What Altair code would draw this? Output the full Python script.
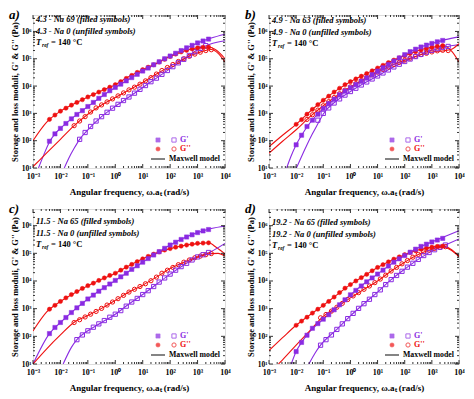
import altair as alt
import pandas as pd

PURPLE = "#8A2BE2"
RED = "#EE1111"
FONT = "Liberation Serif"

# ---------------- data (log10 exponents) ----------------
# Panel a) 4.3 - Na 69 / Na 0
a_fx = [-2.4,-2.2,-2.0,-1.8,-1.6,-1.4,-1.2,-1.0,-0.8,-0.6,-0.4,-0.2,0.0,0.2,0.4,0.6,0.8,1.0,1.2,1.4,1.6,1.8,2.0,2.2,2.4,2.6,2.8,3.0,3.2,3.4]
a_gp_f = [1.98,2.25,2.45,2.63,2.8,2.96,3.1,3.25,3.4,3.55,3.69,3.83,3.95,4.07,4.19,4.31,4.43,4.55,4.66,4.78,4.89,5.0,5.1,5.2,5.3,5.4,5.49,5.58,5.65,5.72]
a_gpp_f = [2.78,2.94,3.08,3.19,3.3,3.4,3.5,3.6,3.69,3.78,3.87,3.96,4.05,4.16,4.28,4.39,4.5,4.6,4.69,4.78,4.88,4.98,5.08,5.17,5.25,5.31,5.36,5.4,5.42,5.43]
a_ux_gp = [-1.3,-1.1,-0.9,-0.7,-0.5,-0.3,-0.1,0.1,0.3,0.5,0.7,0.9,1.1,1.3,1.5,1.7,1.9,2.1,2.3,2.5,2.7,2.9,3.1,3.3]
a_gp_u = [2.05,2.3,2.52,2.72,2.88,3.04,3.19,3.33,3.47,3.6,3.74,3.88,4.02,4.16,4.29,4.43,4.57,4.71,4.85,4.98,5.12,5.26,5.38,5.48]
a_ux_gpp = [-1.5,-1.3,-1.1,-0.9,-0.7,-0.5,-0.3,-0.1,0.1,0.3,0.5,0.7,0.9,1.1,1.3,1.5,1.7,1.9,2.1,2.3,2.5,2.7,2.9,3.1,3.3,3.5]
a_gpp_u = [2.55,2.72,2.88,3.05,3.2,3.31,3.42,3.53,3.64,3.75,3.86,3.96,4.07,4.19,4.31,4.44,4.57,4.68,4.79,4.9,5.0,5.09,5.17,5.24,5.3,5.33]
a_lx_gp_f = [-2.8,-2.6,-2.4,-2.2,-2.0,-1.5,-1.0,-0.5,0,0.5,1,1.5,2,2.5,3,3.5,4]
a_ly_gp_f = [1.0,1.5,1.95,2.25,2.45,2.88,3.25,3.62,3.95,4.25,4.55,4.83,5.1,5.35,5.58,5.76,5.9]
a_lx_gpp_f = [-3,-2.5,-2,-1.5,-1,-0.5,0,0.5,1,1.5,2,2.5,3,3.4,3.7,4]
a_ly_gpp_f = [2.0,2.68,3.08,3.35,3.6,3.83,4.05,4.35,4.6,4.83,5.08,5.28,5.4,5.43,5.3,5.0]
a_lx_gp_u = [-1.86,-1.7,-1.5,-1.3,-1,-0.5,0,0.5,1,1.5,2,2.5,3,3.5,4]
a_ly_gp_u = [1.0,1.35,1.72,2.05,2.4,2.88,3.26,3.6,3.95,4.29,4.64,4.98,5.33,5.55,5.66]
a_lx_gpp_u = [-3.05,-2.5,-2,-1.5,-1,-0.5,0,0.5,1,1.5,2,2.5,3,3.5,3.75,4]
a_ly_gpp_u = [1.0,1.55,2.05,2.55,2.97,3.31,3.58,3.86,4.13,4.44,4.73,5.0,5.21,5.34,5.2,4.88]

# Panel b) 4.9 - Na 63 / Na 0
b_fx = [-2.0,-1.8,-1.6,-1.4,-1.2,-1.0,-0.8,-0.6,-0.4,-0.2,0.0,0.2,0.4,0.6,0.8,1.0,1.2,1.4,1.6,1.8,2.0,2.2,2.4,2.6,2.8,3.0,3.2,3.4]
b_gp_f = [1.85,2.2,2.52,2.75,2.97,3.18,3.36,3.52,3.68,3.82,3.94,4.06,4.18,4.3,4.42,4.55,4.67,4.79,4.91,5.03,5.15,5.26,5.35,5.43,5.5,5.56,5.62,5.67]
b_gpp_f = [2.6,2.77,2.97,3.15,3.32,3.48,3.63,3.78,3.92,4.05,4.16,4.26,4.36,4.46,4.56,4.66,4.76,4.86,4.95,5.03,5.11,5.19,5.26,5.32,5.37,5.42,5.46,5.48]
b_ux_gp = [-1.2,-1.0,-0.8,-0.6,-0.4,-0.2,0.0,0.2,0.4,0.6,0.8,1.0,1.2,1.4,1.6,1.8,2.0,2.2,2.4,2.6,2.8,3.0,3.2,3.4,3.6]
b_gp_u = [2.75,3.0,3.2,3.38,3.53,3.67,3.8,3.92,4.04,4.15,4.26,4.37,4.48,4.59,4.7,4.8,4.9,4.99,5.08,5.16,5.24,5.31,5.37,5.42,5.45]
b_ux_gpp = [-1.6,-1.4,-1.2,-1.0,-0.8,-0.6,-0.4,-0.2,0.0,0.2,0.4,0.6,0.8,1.0,1.2,1.4,1.6,1.8,2.0,2.2,2.4,2.6,2.8,3.0,3.2,3.4,3.6]
b_gpp_u = [2.78,2.95,3.12,3.28,3.43,3.58,3.72,3.85,3.97,4.09,4.2,4.31,4.41,4.51,4.61,4.7,4.79,4.87,4.95,5.02,5.09,5.15,5.2,5.25,5.29,5.31,5.3]
b_lx_gp_f = [-2.35,-2.2,-2.0,-1.8,-1.5,-1,-0.5,0,0.5,1,1.5,2,2.5,3,3.5,4]
b_ly_gp_f = [1.0,1.4,1.85,2.2,2.64,3.18,3.6,3.94,4.24,4.55,4.85,5.15,5.39,5.56,5.7,5.8]
b_lx_gpp_f = [-3,-2.5,-2,-1.5,-1,-0.5,0,0.5,1,1.5,2,2.5,3,3.5,3.75,4]
b_ly_gpp_f = [1.78,2.2,2.6,3.06,3.48,3.85,4.16,4.41,4.66,4.91,5.11,5.3,5.42,5.46,5.25,4.88]
b_lx_gp_u = [-1.99,-1.8,-1.6,-1.4,-1.2,-1,-0.5,0,0.5,1,1.5,2,2.5,3,3.5,4]
b_ly_gp_u = [1.0,1.42,1.85,2.25,2.62,2.98,3.47,3.8,4.1,4.37,4.65,4.9,5.12,5.31,5.43,5.52]
b_lx_gpp_u = [-3,-2.5,-2,-1.5,-1,-0.5,0,0.5,1,1.5,2,2.5,3,3.5,3.75,4]
b_ly_gpp_u = [1.54,1.98,2.4,2.87,3.28,3.65,3.97,4.26,4.51,4.75,4.95,5.12,5.25,5.3,5.36,5.55]

# Panel c) 11.5 - Na 65 / Na 0
c_fx = [-2.4,-2.2,-2.0,-1.8,-1.6,-1.4,-1.2,-1.0,-0.8,-0.6,-0.4,-0.2,0.0,0.2,0.4,0.6,0.8,1.0,1.2,1.4,1.6,1.8,2.0,2.2,2.4,2.6,2.8,3.0,3.2,3.4]
c_gp_f = [2.1,2.32,2.5,2.68,2.86,3.03,3.19,3.35,3.49,3.63,3.76,3.89,4.02,4.15,4.28,4.42,4.55,4.68,4.81,4.94,5.06,5.18,5.3,5.4,5.5,5.59,5.67,5.75,5.81,5.86]
c_gpp_f = [2.98,3.12,3.26,3.39,3.51,3.62,3.73,3.83,3.92,4.02,4.11,4.2,4.28,4.39,4.5,4.6,4.7,4.8,4.89,4.97,5.05,5.12,5.17,5.22,5.26,5.3,5.33,5.36,5.37,5.38]
c_ux_gp = [-1.4,-1.2,-1.0,-0.8,-0.6,-0.4,-0.2,0.0,0.2,0.4,0.6,0.8,1.0,1.2,1.4,1.6,1.8,2.0,2.2,2.4,2.6,2.8,3.0,3.2,3.4]
c_gp_u = [1.88,2.05,2.2,2.33,2.45,2.57,2.69,2.8,2.93,3.09,3.24,3.37,3.51,3.65,3.8,3.96,4.11,4.25,4.39,4.52,4.64,4.76,4.87,4.95,5.03]
c_ux_gpp = [-1.5,-1.3,-1.1,-0.9,-0.7,-0.5,-0.3,-0.1,0.1,0.3,0.5,0.7,0.9,1.1,1.3,1.5,1.7,1.9,2.1,2.3,2.5,2.7,2.9,3.1,3.3,3.5]
c_gpp_u = [2.5,2.6,2.7,2.8,2.9,3.01,3.13,3.24,3.36,3.48,3.6,3.7,3.8,3.9,4.01,4.14,4.28,4.39,4.49,4.59,4.68,4.76,4.84,4.9,4.95,4.99]
c_lx_gp_f = [-3,-2.4,-2,-1.5,-1,-0.5,0,0.5,1,1.5,2,2.5,3,3.5,4]
c_ly_gp_f = [1.0,2.1,2.5,2.95,3.35,3.7,4.02,4.35,4.68,5.0,5.3,5.55,5.75,5.9,5.98]
c_lx_gpp_f = [-3,-2.5,-2,-1.5,-1,-0.5,0,0.5,1,1.5,2,2.5,3,3.4,3.7,4]
c_ly_gpp_f = [2.19,2.88,3.26,3.56,3.83,4.06,4.28,4.55,4.8,5.01,5.17,5.28,5.35,5.38,5.2,4.98]
c_lx_gp_u = [-1.9,-1.6,-1.4,-1,-0.5,0,0.5,1,1.5,2,2.5,3,3.5,4]
c_ly_gp_u = [1.0,1.6,1.88,2.2,2.5,2.8,3.17,3.51,3.88,4.25,4.58,4.87,5.07,5.36]
c_lx_gpp_u = [-3,-2.5,-2,-1.5,-1,-0.5,0,0.5,1,1.5,2,2.5,3,3.5,3.75,4]
c_ly_gpp_u = [1.0,1.55,2.05,2.51,2.75,3.01,3.3,3.6,3.85,4.14,4.45,4.68,4.87,4.99,5.0,4.9]

# Panel d) 19.2 - Na 65 / Na 0
d_fx = [-2.0,-1.8,-1.6,-1.4,-1.2,-1.0,-0.8,-0.6,-0.4,-0.2,0.0,0.2,0.4,0.6,0.8,1.0,1.2,1.4,1.6,1.8,2.0,2.2,2.4,2.6,2.8,3.0,3.2,3.4]
d_gp_f = [1.45,1.78,2.04,2.29,2.46,2.62,2.78,2.96,3.14,3.32,3.5,3.66,3.82,3.97,4.11,4.25,4.39,4.54,4.68,4.8,4.92,5.04,5.15,5.25,5.33,5.41,5.48,5.54]
d_gpp_f = [2.4,2.55,2.69,2.84,2.98,3.12,3.26,3.42,3.58,3.74,3.87,4.0,4.12,4.24,4.37,4.49,4.59,4.69,4.79,4.87,4.95,5.03,5.09,5.15,5.19,5.22,5.25,5.26]
d_ux = [-1.1,-0.9,-0.7,-0.5,-0.3,-0.1,0.1,0.3,0.5,0.7,0.9,1.1,1.3,1.5,1.7,1.9,2.1,2.3,2.5,2.7,2.9,3.1,3.3,3.5]
d_gp_u = [1.68,1.88,2.05,2.25,2.45,2.64,2.83,3.01,3.18,3.34,3.51,3.68,3.87,4.05,4.2,4.35,4.5,4.64,4.78,4.92,5.03,5.13,5.22,5.3]
d_gpp_u = [2.67,2.79,2.91,3.05,3.19,3.33,3.46,3.58,3.7,3.82,3.94,4.07,4.21,4.36,4.49,4.62,4.74,4.86,4.96,5.05,5.12,5.18,5.22,5.24]
d_lx_gp_f = [-2.18,-2.0,-1.8,-1.5,-1,-0.5,0,0.5,1,1.5,2,2.5,3,3.5,4]
d_ly_gp_f = [1.0,1.45,1.78,2.17,2.62,3.05,3.5,3.9,4.25,4.61,4.92,5.2,5.41,5.62,5.82]
d_lx_gpp_f = [-3,-2.5,-2,-1.5,-1,-0.5,0,0.5,1,1.5,2,2.5,3,3.4,3.7,4]
d_ly_gpp_f = [1.49,1.95,2.4,2.77,3.12,3.5,3.87,4.18,4.49,4.74,4.95,5.12,5.22,5.26,5.15,4.89]
d_lx_gp_u = [-1.53,-1.3,-1.1,-0.5,0,0.5,1,1.5,2,2.5,3,3.5,4]
d_ly_gp_u = [1.0,1.4,1.68,2.25,2.74,3.18,3.6,4.05,4.43,4.78,5.08,5.3,5.52]
d_lx_gpp_u = [-2.65,-2.5,-2,-1.5,-1,-0.5,0,0.5,1,1.5,2,2.5,3,3.4,3.7,4]
d_ly_gpp_u = [1.0,1.15,1.68,2.2,2.72,3.05,3.39,3.7,4.0,4.36,4.68,4.96,5.15,5.23,5.12,4.88]

panel_labels = ["a)", "b)", "c)", "d)"]
sample_names = [("4.3 - Na 69 (filled symbols)", "4.3 - Na 0 (unfilled symbols)"),
                ("4.9 - Na 63 (filled symbols)", "4.9 - Na 0 (unfilled symbols)"),
                ("11.5 - Na 65 (filled symbols)", "11.5 - Na 0 (unfilled symbols)"),
                ("19.2 - Na 65 (filled symbols)", "19.2 - Na 0 (unfilled symbols)")]

x_ticks = [1e-3, 1e-2, 1e-1, 1e0, 1e1, 1e2, 1e3, 1e4]
y_ticks = [1e1, 1e2, 1e3, 1e4, 1e5, 1e6]
X_DOMAIN = [1e-3, 1e4]
Y_DOMAIN = [10, 4.0e6]

panels = [
    dict(fx=a_fx, gp_f=a_gp_f, gpp_f=a_gpp_f, ux_gp=a_ux_gp, gp_u=a_gp_u, ux_gpp=a_ux_gpp, gpp_u=a_gpp_u,
         lines=[(a_lx_gp_f, a_ly_gp_f, PURPLE), (a_lx_gpp_f, a_ly_gpp_f, RED),
                (a_lx_gp_u, a_ly_gp_u, PURPLE), (a_lx_gpp_u, a_ly_gpp_u, RED)]),
    dict(fx=b_fx, gp_f=b_gp_f, gpp_f=b_gpp_f, ux_gp=b_ux_gp, gp_u=b_gp_u, ux_gpp=b_ux_gpp, gpp_u=b_gpp_u,
         lines=[(b_lx_gp_f, b_ly_gp_f, PURPLE), (b_lx_gpp_f, b_ly_gpp_f, RED),
                (b_lx_gp_u, b_ly_gp_u, PURPLE), (b_lx_gpp_u, b_ly_gpp_u, RED)]),
    dict(fx=c_fx, gp_f=c_gp_f, gpp_f=c_gpp_f, ux_gp=c_ux_gp, gp_u=c_gp_u, ux_gpp=c_ux_gpp, gpp_u=c_gpp_u,
         lines=[(c_lx_gp_f, c_ly_gp_f, PURPLE), (c_lx_gpp_f, c_ly_gpp_f, RED),
                (c_lx_gp_u, c_ly_gp_u, PURPLE), (c_lx_gpp_u, c_ly_gpp_u, RED)]),
    dict(fx=d_fx, gp_f=d_gp_f, gpp_f=d_gpp_f, ux_gp=d_ux, gp_u=d_gp_u, ux_gpp=d_ux, gpp_u=d_gpp_u,
         lines=[(d_lx_gp_f, d_ly_gp_f, PURPLE), (d_lx_gpp_f, d_ly_gpp_f, RED),
                (d_lx_gp_u, d_ly_gp_u, PURPLE), (d_lx_gpp_u, d_ly_gpp_u, RED)]),
]

X_LABELS = "['10\u207b\u00b3','10\u207b\u00b2','10\u207b\u00b9','10\u2070','10\u00b9','10\u00b2','10\u00b3','10\u2074'][round(log(datum.value)/LN10)+3]"
Y_LABELS = "['10\u00b9','10\u00b2','10\u00b3','10\u2074','10\u2075','10\u2076'][round(log(datum.value)/LN10)-1]"
X_TITLE = "Angular frequency, \u03c9.a\u209c (rad/s)"
Y_TITLE = "Storage and loss moduli, G' & G'' (Pa)"

xs = alt.Scale(type="log", domain=X_DOMAIN, nice=False)
ys = alt.Scale(type="log", domain=Y_DOMAIN, nice=False)
XAX = alt.Axis(values=x_ticks, labelExpr=X_LABELS, ticks=False, grid=False, domain=False,
               labelFont=FONT, labelFontWeight="bold", labelFontSize=8, labelColor="black",
               labelPadding=4, labelFlush=False, titleFont=FONT, titleFontWeight="bold",
               titleFontSize=9, titleColor="black", titlePadding=7)
YAX = alt.Axis(values=y_ticks, labelExpr=Y_LABELS, ticks=False, grid=False, domain=False,
               labelFont=FONT, labelFontWeight="bold", labelFontSize=7.5, labelColor="black",
               labelPadding=2, labelFlush=False, titleFont=FONT, titleFontWeight="bold",
               titleFontSize=8.5, titleColor="black", titlePadding=2)

minor_x = [m * 10.0 ** e for e in range(-3, 4) for m in range(2, 10)]
minor_y = [m * 10.0 ** e for e in range(1, 7) for m in range(2, 10) if m * 10.0 ** e < Y_DOMAIN[1]]


def X(field):
    return alt.X(field, scale=xs, axis=XAX, title=X_TITLE)


def Y(field):
    return alt.Y(field, scale=ys, axis=YAX, title=Y_TITLE)


def pts(xe, ye):
    return pd.DataFrame({"x": [10 ** v for v in xe], "y": [10 ** v for v in ye]})


def one():
    return pd.DataFrame({"a": [0]})


def panel(i, W, H, text_top):
    p = panels[i]
    layers = []
    rows = []
    for k, (lx, ly, col) in enumerate(p["lines"]):
        for xv, yv in zip(lx, ly):
            rows.append({"x": 10 ** xv, "y": 10 ** yv, "id": k, "c": col})
    ldf = pd.DataFrame(rows)
    layers.append(alt.Chart(ldf).mark_line(clip=True, strokeWidth=1.1, interpolate="monotone").encode(
        x=X("x:Q"), y=Y("y:Q"), detail="id:N", color=alt.Color("c:N", scale=None)))

    def mk(df, shape, col, filled):
        kw = dict(shape=shape, size=18, clip=True, opacity=1)
        if filled:
            kw.update(filled=True, fill=col, stroke=col, strokeWidth=0.5)
        else:
            kw.update(filled=False, stroke=col, strokeWidth=1)
        return alt.Chart(df).mark_point(**kw).encode(x=X("x:Q"), y=Y("y:Q"))

    layers.append(mk(pts(p["ux_gpp"], p["gpp_u"]), "circle", RED, False))
    layers.append(mk(pts(p["ux_gp"], p["gp_u"]), "square", PURPLE, False))
    layers.append(mk(pts(p["fx"], p["gpp_f"]), "circle", RED, True))
    layers.append(mk(pts(p["fx"], p["gp_f"]), "square", PURPLE, True))

    # inward ticks
    def xt(vals, L):
        d = pd.DataFrame({"x": vals})
        bot = alt.Chart(d).mark_rule(color="black", strokeWidth=0.8).encode(
            x=X("x:Q"), y=alt.value(H), y2=alt.value(H - L))
        top = alt.Chart(d).mark_rule(color="black", strokeWidth=0.8).encode(
            x=X("x:Q"), y=alt.value(0), y2=alt.value(L))
        return [bot, top]

    def yt(vals, L):
        d = pd.DataFrame({"y": vals})
        lft = alt.Chart(d).mark_rule(color="black", strokeWidth=0.8).encode(
            y=Y("y:Q"), x=alt.value(0), x2=alt.value(L))
        rgt = alt.Chart(d).mark_rule(color="black", strokeWidth=0.8).encode(
            y=Y("y:Q"), x=alt.value(W), x2=alt.value(W - L))
        return [lft, rgt]

    layers += xt(x_ticks, 4) + xt(minor_x, 2) + yt(y_ticks, 4) + yt(minor_y, 2)

    def txt(s, x, y, size=8.5, style="italic", weight="bold", color="black", align="left", baseline="middle"):
        return alt.Chart(one()).mark_text(text=s, font=FONT, fontSize=size, fontStyle=style, fontWeight=weight,
                                          color=color, align=align, baseline=baseline).encode(
            x=alt.value(x), y=alt.value(y))

    l1, l2 = sample_names[i]
    layers.append(txt(l1, 3, text_top))
    layers.append(txt(l2, 3, text_top + 11.5))
    layers.append(txt("T", 3, text_top + 23))
    layers.append(txt("ref", 9, text_top + 26, size=5.5))
    layers.append(txt("= 140 \u00b0C", 18, text_top + 23, style="normal"))
    layers.append(txt(panel_labels[i], -24, -6, size=13, baseline="top"))

    def sym(x, y, shape, col, filled):
        kw = dict(shape=shape, size=18)
        if filled:
            kw.update(filled=True, fill=col, stroke=col, strokeWidth=0.5)
        else:
            kw.update(filled=False, stroke=col, strokeWidth=1)
        return alt.Chart(one()).mark_point(**kw).encode(x=alt.value(x), y=alt.value(y))

    r1, r2, r3 = H - 28, H - 19, H - 9
    layers.append(sym(W - 67, r1, "square", PURPLE, True))
    layers.append(sym(W - 51, r1, "square", PURPLE, False))
    layers.append(txt("G'", W - 45, r1, size=8, style="normal", color=PURPLE))
    layers.append(sym(W - 67, r2, "circle", RED, True))
    layers.append(sym(W - 51, r2, "circle", RED, False))
    layers.append(txt("G''", W - 45, r2, size=8, style="normal", color=RED))
    layers.append(alt.Chart(one()).mark_rule(color="#333333", strokeWidth=1.2).encode(
        x=alt.value(W - 74), x2=alt.value(W - 60), y=alt.value(r3)))
    layers.append(txt("Maxwell model", W - 56, r3, size=7.8, style="normal"))

    return alt.layer(*layers).properties(width=W, height=H)


pa = panel(0, 192, 153, 4)
pb = panel(1, 190, 153, 5)
pc = panel(2, 192, 155, 12)
pd_ = panel(3, 190, 155, 13)

chart = alt.concat(pa, pb, pc, pd_, columns=2, spacing={"row": 41, "column": 44}, bounds="flush").properties(
    padding=0
).configure_view(stroke="black", strokeWidth=1).configure(background="white")

chart.save("out.html", embed_options={"renderer": "svg", "actions": False})
